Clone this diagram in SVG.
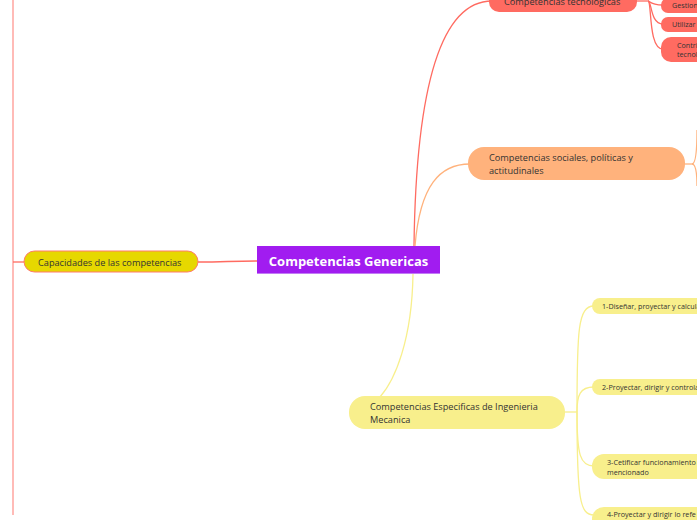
<svg xmlns="http://www.w3.org/2000/svg" width="697" height="520" viewBox="0 0 697 520">
<style>
text{font-family:"Open Sans","Noto Sans","DejaVu Sans",sans-serif;fill:#333}
.t10{font-size:9.2px}
.t7{font-size:7.2px}
.red{fill:#FF6B61}
.or{fill:#FFB27C}
.ye{fill:#F8EF8C}
.cr{fill:none;stroke:#FF6B61;stroke-width:1.3}
.co{fill:none;stroke:#FFB27C;stroke-width:1.3}
.cy{fill:none;stroke:#F8EF8C;stroke-width:1.3}
</style>
<rect width="697" height="520" fill="#fff"/>
<g id="connectors">
<path class="cr" d="M13,0 L13,515" stroke-opacity="0.7"/>
<path class="cr" d="M13,262 L24,262"/>
<path class="cr" d="M198,262 C225,262 230,261 257,261"/>
<path class="cr" d="M414,246 C416,90 440,1 492,1"/>
<path class="co" d="M415,246 C420,185 440,164 470,164"/>
<path class="cy" d="M413,274 C412,340 395,380 380,397"/>
<path class="cr" d="M637,1 L648,1"/>
<path class="cr" d="M648,1 C650,1 650,5 663,5"/>
<path class="cr" d="M648,1 C652,1 650,24 663,24"/>
<path class="cr" d="M648,1 C652,1 648,49 663,49"/>
<path class="co" d="M685,164 L692,164"/>
<path class="co" d="M692,164 C696,164 697,150 697,130"/>
<path class="co" d="M692,164 C696,164 697,175 697,186"/>
<path class="cy" d="M565,412 L577,412"/>
<path class="cy" d="M577,412 C577,330 578,306 594,306"/>
<path class="cy" d="M577,412 C577,395 580,387 594,387"/>
<path class="cy" d="M577,412 C577,455 580,466 594,466"/>
<path class="cy" d="M577,412 C577,500 580,515 594,515"/>
</g>
<g id="central">
<rect x="257" y="246" width="183" height="28" fill="#A11CF0"/>
<rect x="257" y="273" width="183" height="1" fill="#C27BF5"/>
<text x="348.5" y="266" text-anchor="middle" style="font-size:13px;font-weight:bold;fill:#fff">Competencias Genericas</text>
</g>
<g id="capacidades">
<rect x="24" y="251" width="174" height="21" rx="10.5" fill="#E6D800" stroke="#FF7A6A" stroke-width="1"/>
<text class="t10" x="38" y="265.5">Capacidades de las competencias</text>
</g>
<g id="tecnologicas">
<rect class="red" x="489" y="-12" width="148" height="24" rx="10"/>
<text class="t10" x="504" y="5">Competencias tecnologicas</text>
</g>
<g id="gestion">
<rect class="red" x="661" y="-2" width="50" height="15" rx="7"/>
<text class="t7" x="672" y="8">Gestion</text>
</g>
<g id="utilizar">
<rect class="red" x="661" y="17" width="50" height="15" rx="7"/>
<text class="t7" x="672" y="27">Utilizar</text>
</g>
<g id="contri">
<rect class="red" x="661" y="37" width="50" height="25" rx="10"/>
<text class="t7" x="677" y="48">Contri</text>
<text class="t7" x="677" y="57">tecnol</text>
</g>
<g id="sociales">
<rect class="or" x="468" y="147" width="217" height="33" rx="16"/>
<text class="t10" x="489" y="161">Competencias sociales, políticas y</text>
<text class="t10" x="489" y="174">actitudinales</text>
</g>
<g id="especificas">
<rect class="ye" x="349" y="396" width="216" height="33" rx="16"/>
<text class="t10" x="370" y="410">Competencias Especificas de Ingenieria</text>
<text class="t10" x="370" y="423">Mecanica</text>
</g>
<g id="esp1">
<rect class="ye" x="592" y="298" width="120" height="16" rx="8"/>
<text class="t7" x="602" y="309">1-Diseñar, proyectar y calcula</text>
</g>
<g id="esp2">
<rect class="ye" x="592" y="379" width="120" height="16" rx="8"/>
<text class="t7" x="602" y="390">2-Proyectar, dirigir y controla</text>
</g>
<g id="esp3">
<rect class="ye" x="592" y="454" width="120" height="25" rx="12"/>
<text class="t7" x="607" y="465">3-Cetificar funcionamiento</text>
<text class="t7" x="607" y="475">mencionado</text>
</g>
<g id="esp4">
<rect class="ye" x="592" y="507" width="120" height="25" rx="12"/>
<text class="t7" x="607" y="517">4-Proyectar y dirigir lo refe</text>
</g>
</svg>
